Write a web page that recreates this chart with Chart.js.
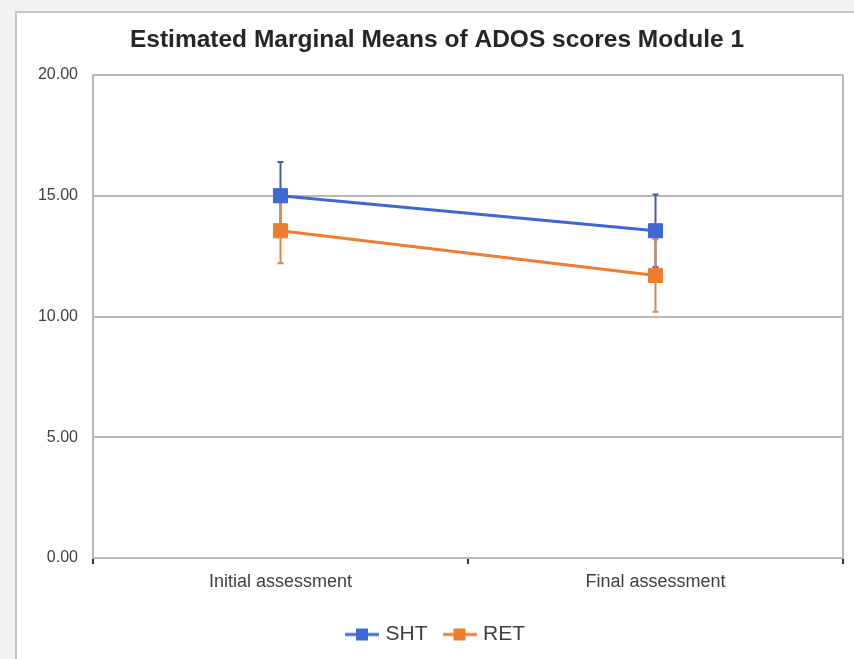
<!DOCTYPE html>
<html>
<head>
<meta charset="utf-8">
<script src="https://cdn.jsdelivr.net/npm/chart.js@4/dist/chart.umd.min.js"></script>
<style>
  html, body { margin:0; padding:0; background:#f2f2f2; width:854px; height:659px; overflow:hidden; }
  #frame { position:absolute; left:15px; top:11px; width:900px; height:700px; background:#fff; border:2px solid #c6c6c6; }
  #wrap { position:absolute; left:0; top:0; width:854px; height:659px; }
</style>
</head>
<body>
<div id="frame"></div>
<div id="wrap"><canvas id="c" width="854" height="659"></canvas></div>
<script>
const categories = ["Initial assessment", "Final assessment"];
const seriesNames = ["SHT", "RET"];
const shtMeans = [15.0, 13.55];
const retMeans = [13.55, 11.7];
const shtErr = [1.4, 1.5];
const retErr = [1.35, 1.5];
const yTicks = [0, 5, 10, 15, 20];

const BLUE = '#3f68d2';
const ORANGE = '#ed7d31';

function legendIcon(color) {
  const c = document.createElement('canvas');
  c.width = 34; c.height = 14;
  const g = c.getContext('2d');
  g.strokeStyle = color; g.lineWidth = 3;
  g.beginPath(); g.moveTo(0, 7); g.lineTo(34, 7); g.stroke();
  g.fillStyle = color; g.fillRect(11, 1, 12, 12);
  return c;
}

const errorBars = {
  id: 'errorBars',
  beforeDatasetsDraw(chart) {
    const ctx = chart.ctx;
    const ys = chart.scales.y;
    chart.data.datasets.forEach((ds, i) => {
      const meta = chart.getDatasetMeta(i);
      ctx.save();
      ctx.strokeStyle = ds.errColor;
      ctx.lineWidth = 2;
      meta.data.forEach((pt, j) => {
        const v = ds.data[j], e = ds.errors[j];
        const top = ys.getPixelForValue(v + e), bot = ys.getPixelForValue(v - e);
        ctx.beginPath();
        ctx.moveTo(pt.x, top); ctx.lineTo(pt.x, bot);
        ctx.moveTo(pt.x - 3, top); ctx.lineTo(pt.x + 3, top);
        ctx.moveTo(pt.x - 3, bot); ctx.lineTo(pt.x + 3, bot);
        ctx.stroke();
      });
      ctx.restore();
    });
  }
};

const PAD_LEFT = 31;
const PAD_BOTTOM = 4;
const AREA_BOTTOM = 558;
const AREA_LEFT = 93;

new Chart(document.getElementById('c'), {
  type: 'line',
  data: {
    labels: categories,
    datasets: [
      { label: seriesNames[0], data: shtMeans, errors: shtErr, errColor: '#4a5f9a',
        borderColor: BLUE, backgroundColor: BLUE, borderWidth: 3,
        pointStyle: 'rect', pointRadius: 10, pointHoverRadius: 10, pointBorderWidth: 1,
        pointBackgroundColor: BLUE, pointBorderColor: BLUE, legendIcon: legendIcon(BLUE) },
      { label: seriesNames[1], data: retMeans, errors: retErr, errColor: '#d08a55',
        borderColor: ORANGE, backgroundColor: ORANGE, borderWidth: 3,
        pointStyle: 'rect', pointRadius: 10, pointHoverRadius: 10, pointBorderWidth: 1,
        pointBackgroundColor: ORANGE, pointBorderColor: ORANGE, legendIcon: legendIcon(ORANGE) }
    ]
  },
  options: {
    responsive: false,
    animation: false,
    layout: { padding: { left: PAD_LEFT, right: 11, top: 0, bottom: PAD_BOTTOM } },
    plugins: {
      tooltip: { enabled: false },
      title: {
        display: true,
        text: 'Estimated Marginal Means of ADOS scores Module 1',
        color: '#262626',
        font: { family: '"Liberation Sans", Arial, sans-serif', size: 24.5, weight: 'bold' },
        padding: { top: 26, bottom: 19.6 }
      },
      legend: {
        position: 'bottom',
        labels: {
          usePointStyle: true,
          pointStyleWidth: 26,
          padding: 19,
          color: '#404040',
          font: { family: '"Liberation Sans", Arial, sans-serif', size: 21 },
          generateLabels(chart) {
            return chart.data.datasets.map((ds, i) => ({
              text: ds.label, pointStyle: ds.legendIcon, fillStyle: ds.borderColor,
              strokeStyle: ds.borderColor, lineWidth: 0, hidden: false, datasetIndex: i,
              fontColor: '#404040'
            }));
          }
        }
      }
    },
    scales: {
      x: {
        type: 'category',
        offset: true,
        grid: {
          offset: true,
          color: (c) => c.index === 1 ? 'rgba(0,0,0,0)' : '#b8b8b8',
          lineWidth: 2,
          tickColor: '#333',
          tickLength: 6,
          drawTicks: true
        },
        border: { display: true, color: '#b8b8b8', width: 2 },
        ticks: {
          color: '#404040',
          padding: 7,
          maxRotation: 0,
          font: { family: '"Liberation Sans", Arial, sans-serif', size: 18 }
        },
        afterFit(scale) {
          const lh = scale.chart.legend ? scale.chart.legend.height : 0;
          scale.height = 659 - PAD_BOTTOM - lh - AREA_BOTTOM;
        }
      },
      y: {
        min: 0, max: 20,
        afterBuildTicks(scale) { scale.ticks = yTicks.map(v => ({ value: v })); },
        grid: { color: '#b8b8b8', lineWidth: 2, drawTicks: false },
        border: { display: true, color: '#b8b8b8', width: 2 },
        ticks: {
          color: '#404040',
          padding: 15,
          callback: (v) => Number(v).toFixed(2),
          font: { family: '"Liberation Sans", Arial, sans-serif', size: 16 }
        },
        afterFit(scale) { scale.width = AREA_LEFT - PAD_LEFT; }
      }
    }
  },
  plugins: [errorBars]
});
</script>
</body>
</html>
